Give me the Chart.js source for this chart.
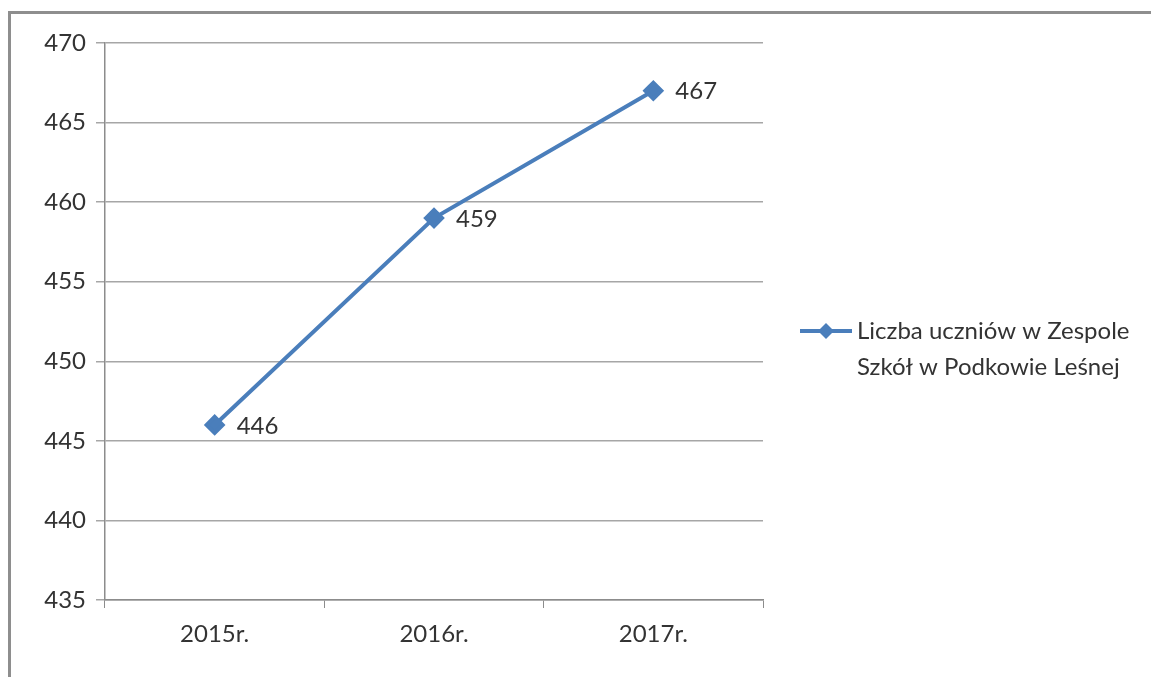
<!DOCTYPE html>
<html>
<head>
<meta charset="utf-8">
<script src="https://cdn.jsdelivr.net/npm/chart.js@4.4.1/dist/chart.umd.min.js"></script>
<style>
  html, body { margin: 0; padding: 0; background: #fff; overflow: hidden; }
  #wrap { position: relative; width: 1151px; height: 677px; overflow: hidden; }
  #wykres { position: absolute; left: 0; top: 0; }
  #ramka {
    position: absolute; left: 8px; top: 11px; width: 1200px; height: 700px;
    border-left: 3px solid #8e8e8e; border-top: 3px solid #8e8e8e;
    pointer-events: none;
  }
</style>
</head>
<body>
<div id="wrap">
  <canvas id="wykres" width="1151" height="677"></canvas>
  <div id="ramka"></div>
</div>
<script>
// dane z wykresu
const lata = ["2015r.", "2016r.", "2017r."];
const liczbaUczniow = [446, 459, 467];
const etykietaSerii = ["Liczba uczniów w Zespole", "Szkół w Podkowie Leśnej"];
const osY = { min: 435, max: 470, krok: 5 };

const kolorLinii = "#4a7ebb";
const kolorTekstu = "#333333";
const czcionka = "Lato, 'Open Sans', sans-serif";
const rozmiar = 24;

// etykiety wartości przy punktach
const etykietyWartosci = {
  id: "etykietyWartosci",
  afterDatasetsDraw(chart) {
    const ctx = chart.ctx;
    const meta = chart.getDatasetMeta(0);
    ctx.save();
    ctx.font = rozmiar + "px " + czcionka;
    ctx.fillStyle = kolorTekstu;
    ctx.textAlign = "left";
    ctx.textBaseline = "middle";
    meta.data.forEach((pkt, i) => {
      ctx.fillText(String(liczbaUczniow[i]), pkt.x + 22, pkt.y + 1);
    });
    ctx.restore();
  }
};

// legenda w dwóch liniach, po prawej
const legendaPoPrawej = {
  id: "legendaPoPrawej",
  afterDraw(chart) {
    const ctx = chart.ctx;
    const x0 = chart.chartArea.right + 37;
    const y0 = 331;
    ctx.save();
    ctx.strokeStyle = kolorLinii;
    ctx.lineWidth = 4;
    ctx.beginPath();
    ctx.moveTo(x0, y0);
    ctx.lineTo(x0 + 52, y0);
    ctx.stroke();
    ctx.fillStyle = kolorLinii;
    ctx.beginPath();
    ctx.moveTo(x0 + 26, y0 - 8);
    ctx.lineTo(x0 + 34, y0);
    ctx.lineTo(x0 + 26, y0 + 8);
    ctx.lineTo(x0 + 18, y0);
    ctx.closePath();
    ctx.fill();
    ctx.font = rozmiar + "px " + czcionka;
    ctx.fillStyle = kolorTekstu;
    ctx.textAlign = "left";
    ctx.textBaseline = "middle";
    etykietaSerii.forEach((linia, i) => {
      ctx.fillText(linia, x0 + 57, y0 + i * 36);
    });
    ctx.restore();
  }
};

new Chart(document.getElementById("wykres"), {
  type: "line",
  data: {
    labels: lata,
    datasets: [{
      label: etykietaSerii.join(" "),
      data: liczbaUczniow,
      borderColor: kolorLinii,
      backgroundColor: kolorLinii,
      borderWidth: 4,
      pointStyle: "rectRot",
      pointRadius: 8,
      pointHoverRadius: 8,
      tension: 0
    }]
  },
  options: {
    responsive: false,
    animation: false,
    layout: { padding: { left: 0, top: 43, right: 388, bottom: 0 } },
    plugins: {
      legend: { display: false },
      tooltip: { enabled: false }
    },
    scales: {
      x: {
        offset: true,
        grid: {
          drawOnChartArea: false,
          drawTicks: true,
          tickLength: 8,
          color: "#8c8c8c",
          offset: true
        },
        border: { color: "#8c8c8c", width: 1.5 },
        ticks: {
          color: kolorTekstu,
          font: { size: rozmiar, family: czcionka },
          padding: 12
        },
        afterFit(skala) { skala.height = 77; }
      },
      y: {
        min: osY.min,
        max: osY.max,
        ticks: {
          stepSize: osY.krok,
          color: kolorTekstu,
          font: { size: rozmiar, family: czcionka },
          padding: 10
        },
        grid: {
          color: "#a6a6a6",
          lineWidth: 1.5,
          tickLength: 9
        },
        border: { color: "#8c8c8c", width: 1.5 },
        afterFit(skala) { skala.width = 105; }
      }
    }
  },
  plugins: [etykietyWartosci, legendaPoPrawej]
});
</script>
</body>
</html>
